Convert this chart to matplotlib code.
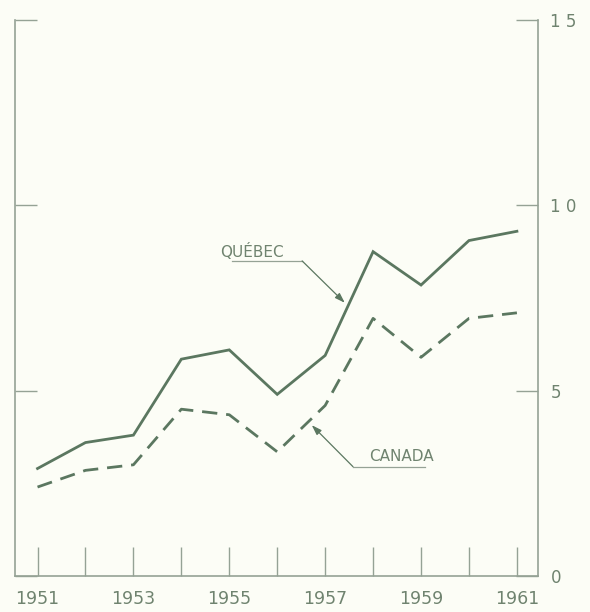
import numpy as np
import matplotlib.pyplot as plt

# Values (index, 0 to 1.5)
years = [1951, 1952, 1953, 1954, 1955, 1956, 1957, 1958, 1959, 1960, 1961]
quebec = [0.29, 0.36, 0.38, 0.585, 0.61, 0.49, 0.595, 0.875, 0.785, 0.905, 0.93]
canada = [0.24, 0.285, 0.30, 0.45, 0.435, 0.335, 0.46, 0.695, 0.59, 0.695, 0.71]
year_labels = ["1951", "", "1953", "", "1955", "", "1957", "", "1959", "", "1961"]
y_ticks = [0, 0.5, 1.0, 1.5]
y_labels = ["0", "5", "1 0", "1 5"]

bg = "#fcfdf6"
line_col = "#5b7760"
axis_col = "#95a295"
text_col = "#6f836f"

fig = plt.figure(figsize=(5.9, 6.12), dpi=100, facecolor=bg)
ax = fig.add_axes([15 / 590, 36 / 612, 523 / 590, 556 / 612], facecolor=bg)

ax.plot(years, quebec, color=line_col, linewidth=2.0, solid_joinstyle="miter")
ax.plot(years, canada, color=line_col, linewidth=2.0, dashes=(5.5, 3.2))

ax.set_xlim(1950.53, 1961.44)
ax.set_ylim(0, 1.5)

# Frame: left, right and bottom only
ax.spines["top"].set_visible(False)
for side in ["left", "right", "bottom"]:
    ax.spines[side].set_color(axis_col)
    ax.spines[side].set_linewidth(1.2)

ax.set_xticks(years)
ax.set_xticklabels(year_labels)
ax.tick_params(axis="x", direction="in", length=21, width=1.0, color=axis_col,
               labelsize=12.5, labelcolor=text_col, pad=10)

ax.set_yticks(y_ticks)
ax.set_yticklabels(y_labels)
ax.tick_params(axis="y", direction="in", length=16, width=1.0, color=axis_col,
               left=True, right=True, labelleft=False, labelright=True,
               labelsize=12, labelcolor=text_col, pad=9)

# Series labels with leader arrows
ax.text(1955.48, 0.876, "QUÉBEC", fontsize=11, color=text_col, ha="center", va="center")
ax.plot([1955.06, 1956.52], [0.85, 0.85], color=axis_col, linewidth=0.9)
ax.annotate("", xy=(1957.41, 0.737), xytext=(1956.52, 0.85),
            arrowprops=dict(arrowstyle="-|>,head_length=0.6,head_width=0.2",
                            color=line_col, linewidth=0.9, shrinkA=0, shrinkB=0))

ax.text(1958.59, 0.323, "CANADA", fontsize=11, color=text_col, ha="center", va="center")
ax.plot([1957.58, 1959.08], [0.295, 0.295], color=axis_col, linewidth=0.9)
ax.annotate("", xy=(1956.72, 0.407), xytext=(1957.58, 0.295),
            arrowprops=dict(arrowstyle="-|>,head_length=0.6,head_width=0.2",
                            color=line_col, linewidth=0.9, shrinkA=0, shrinkB=0))

fig.savefig("out.png", dpi=100, facecolor=bg)
